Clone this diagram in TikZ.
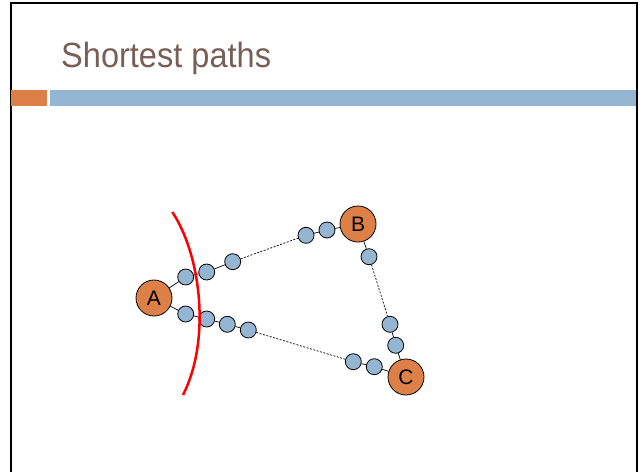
\documentclass[tikz,border=0pt]{standalone}
\usepackage{fontspec}
\setmainfont{Liberation Sans}
\definecolor{titlec}{HTML}{775F55}
\definecolor{orangec}{HTML}{DD8047}
\definecolor{bluec}{HTML}{94B6D2}
\begin{document}
\begin{tikzpicture}[x=1pt,y=-1pt,
  big/.style={circle,draw=black,line width=0.8pt,fill=orangec,minimum size=36pt,inner sep=0pt,font=\fontsize{21}{21}\selectfont},
  small/.style={circle,draw=black,line width=0.8pt,fill=bluec,minimum size=16pt,inner sep=0pt},
  solidlink/.style={draw=black,line width=0.7pt},
  dashlink/.style={draw=black,line width=0.7pt,dash pattern=on 2pt off 1.5pt}]
\useasboundingbox (0,0) rectangle (642,471);
\begin{scope}
\clip (0,0) rectangle (642,471);
\draw[line width=2pt] (11,3) rectangle (637,490);
\end{scope}
\node[anchor=base west,text=titlec,inner sep=0pt,font=\fontsize{35}{35}\selectfont] (title) at (61,67.5) {\scalebox{0.93}[1]{Shortest paths}};
\fill[orangec] (11,90) rectangle (47,106);
\fill[bluec] (50,90) rectangle (636,106);
% nodes
\node[big] (A) at (154,298) {A};
\node[big] (B) at (358,224) {B};
\node[big] (C) at (406,377) {C};
\node[small] (s1) at (185.7,277) {};
\node[small] (s2) at (206.7,272) {};
\node[small] (s3) at (232.7,261.7) {};
\node[small] (s4) at (306,235.3) {};
\node[small] (s5) at (327,230) {};
\node[small] (t1) at (185.7,314) {};
\node[small] (t2) at (206.7,319) {};
\node[small] (t3) at (227.3,324.3) {};
\node[small] (t4) at (248.3,330) {};
\node[small] (t5) at (353.3,361.7) {};
\node[small] (t6) at (374.3,366.7) {};
\node[small] (u1) at (369,256.7) {};
\node[small] (u2) at (390,324.3) {};
\node[small] (u3) at (395.7,345.3) {};
% links
\draw[solidlink] (A) -- (s1);
\draw[solidlink] (s1) -- (s2);
\draw[solidlink] (s2) -- (s3);
\draw[dashlink] (s3) -- (s4);
\draw[solidlink] (s4) -- (s5);
\draw[solidlink] (s5) -- (B);
\draw[solidlink] (A) -- (t1);
\draw[solidlink] (t1) -- (t2);
\draw[solidlink] (t2) -- (t3);
\draw[solidlink] (t3) -- (t4);
\draw[dashlink] (t4) -- (t5);
\draw[solidlink] (t5) -- (t6);
\draw[solidlink] (t6) -- (C);
\draw[solidlink] (B) -- (u1);
\draw[dashlink] (u1) -- (u2);
\draw[solidlink] (u2) -- (u3);
\draw[solidlink] (u3) -- (C);
% red cut
\coordinate (r1) at (172.3,212);
\coordinate (r2) at (183,395);
\draw[red,line width=2.5pt] (r1) .. controls (201,255) and (211,340) .. (r2);
\end{tikzpicture}
\end{document}
